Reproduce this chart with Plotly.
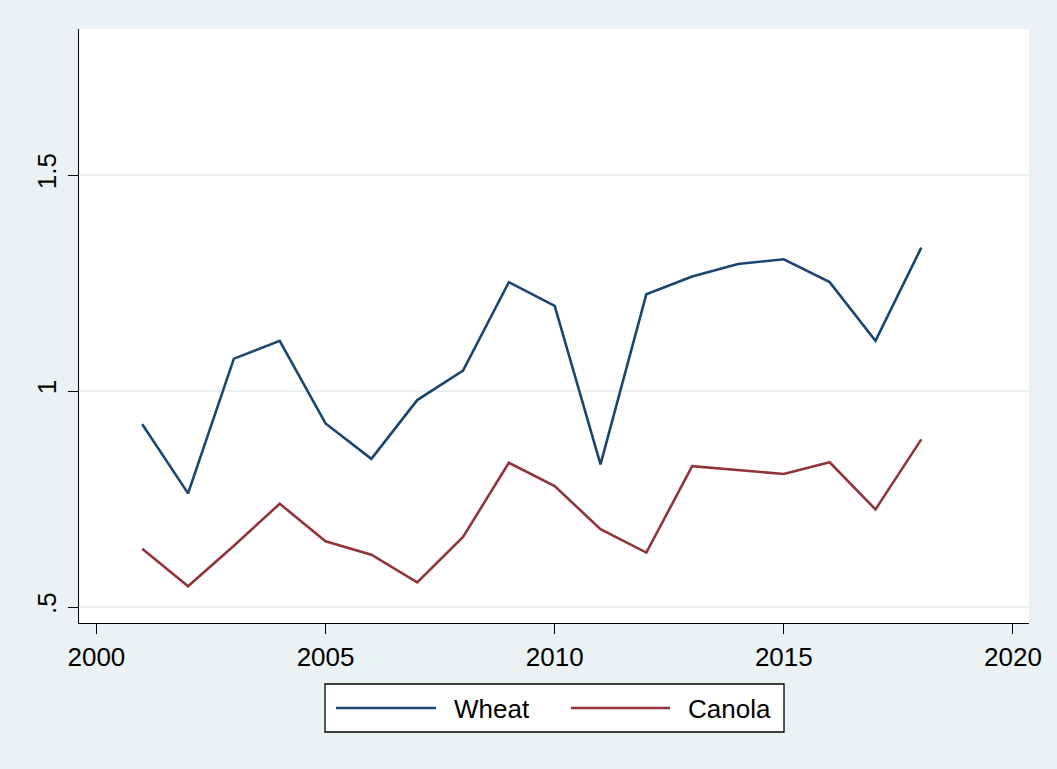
import plotly.graph_objects as go

years = list(range(2001, 2019))
wheat = [0.923, 0.763, 1.075, 1.116, 0.925, 0.843, 0.979, 1.047, 1.252, 1.197,
         0.830, 1.224, 1.265, 1.294, 1.305, 1.252, 1.116, 1.332]
canola = [0.635, 0.548, 0.642, 0.739, 0.652, 0.621, 0.557, 0.662, 0.834, 0.780,
          0.680, 0.626, 0.826, 0.817, 0.808, 0.835, 0.726, 0.888]
series_names = ["Wheat", "Canola"]
series_colors = ["#1A476F", "#90353B"]

x_ticks = [2000, 2005, 2010, 2015, 2020]
y_ticks = [0.5, 1.0, 1.5]
y_ticktext = [".5", "1", "1.5"]

FONT = "Liberation Sans, Arial, sans-serif"
W, H = 1057, 769
ML, MR, MT, MB = 79, 28, 29, 146
PW, PH = W - ML - MR, H - MT - MB


def px(xp):
    return (xp - ML) / PW


def py(yp):
    return (H - MB - yp) / PH


fig = go.Figure()
for name, vals, col in zip(series_names, [wheat, canola], series_colors):
    fig.add_trace(go.Scatter(x=years, y=vals, mode="lines", name=name,
                             line=dict(color=col, width=2.6), showlegend=False))

fig.update_layout(
    width=W, height=H,
    margin=dict(l=ML, r=MR, t=MT, b=MB),
    paper_bgcolor="#EAF2F3",
    plot_bgcolor="white",
    font=dict(family=FONT, size=26, color="black"),
)
fig.update_xaxes(
    range=[1999.62, 2020.35], tickvals=x_ticks, showgrid=False, zeroline=False,
    showline=True, linecolor="black", linewidth=1.3,
    ticks="outside", ticklen=10, tickwidth=1.3, tickcolor="black",
    tickfont=dict(family=FONT, size=26, color="black"), ticklabelstandoff=1,
)
fig.update_yaxes(
    range=[0.463, 1.838], tickvals=y_ticks, ticktext=y_ticktext, tickangle=-90,
    showgrid=True, gridcolor="#E6EEF0", gridwidth=2, zeroline=False,
    showline=True, linecolor="black", linewidth=1.3,
    ticks="outside", ticklen=10, tickwidth=1.3, tickcolor="black",
    tickfont=dict(family=FONT, size=26, color="black"), ticklabelstandoff=1,
)

# Custom legend (Stata style)
shapes = [dict(type="rect", xref="paper", yref="paper",
               x0=px(325), x1=px(784), y0=py(732), y1=py(684),
               line=dict(color="black", width=1.3), fillcolor="white")]
annotations = []
leg_line = [(336, 436, 452), (571, 670, 686)]
for (x0, x1, xt), name, col in zip(leg_line, series_names, series_colors):
    shapes.append(dict(type="line", xref="paper", yref="paper",
                       x0=px(x0), x1=px(x1), y0=py(708), y1=py(708),
                       line=dict(color=col, width=2.6)))
    annotations.append(dict(xref="paper", yref="paper", x=px(xt), y=py(709),
                            text=name, showarrow=False, xanchor="left",
                            yanchor="middle",
                            font=dict(family=FONT, size=26, color="black")))
fig.update_layout(shapes=shapes, annotations=annotations)

fig.write_html("out.html")
